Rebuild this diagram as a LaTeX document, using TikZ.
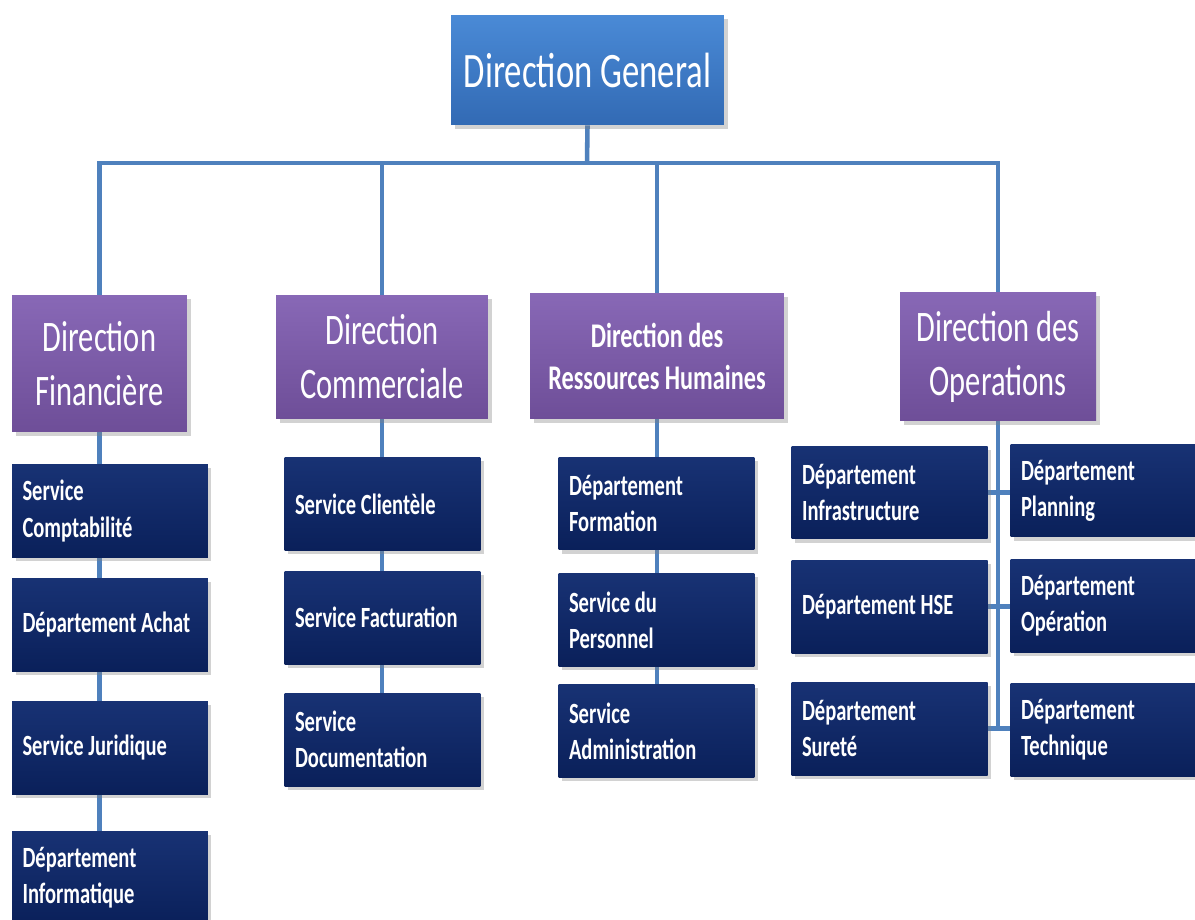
\documentclass[tikz,border=0pt]{standalone}
\usepackage{fontspec}
\setmainfont{Carlito}[FakeStretch=0.7]
\usepackage{xcolor}
\usepackage{tikz}
\usetikzlibrary{shadows,backgrounds}
\definecolor{dgtop}{RGB}{74, 138, 214}
\definecolor{dgbot}{RGB}{50, 106, 180}
\definecolor{dirtop}{RGB}{136, 104, 182}
\definecolor{dirbot}{RGB}{110, 78, 152}
\definecolor{unittop}{RGB}{24, 50, 116}
\definecolor{unitbot}{RGB}{10, 32, 90}
\definecolor{linkcolor}{RGB}{79, 129, 189}

\begin{document}
\begin{tikzpicture}[
    x=0.02cm, y=-0.02cm,
    box/.style={rectangle, inner sep=0pt, text=white, drop shadow={opacity=0.35, shadow xshift=2pt, shadow yshift=-2pt}},
    topbox/.style={box, top color=dgtop, bottom color=dgbot, minimum width=5.46cm, minimum height=2.2cm, font=\fontsize{28.2}{34}\selectfont},
    dirbox/.style={box, top color=dirtop, bottom color=dirbot, align=center, font=\fontsize{24.8}{30.7}\selectfont},
    unitbox/.style={box, top color=unittop, bottom color=unitbot, align=left, text width=3.5cm, inner xsep=0.21cm, minimum height=1.86cm, font=\bfseries\fontsize{16.7}{20.5}\selectfont,
        execute at begin node={\spaceskip=0.16em\relax}},
    link/.style={draw=linkcolor, line width=2.6pt}
]
\useasboundingbox (0,0) rectangle (1195,919);

% Top
\node[topbox] (dg) at (587.5,70) {Direction General};

% Directions
\node[dirbox, minimum width=3.5cm, minimum height=2.74cm] (dfin) at (99.5,363.5) {Direction\\Financière};
\node[dirbox, minimum width=4.24cm, minimum height=2.48cm] (dcom) at (382,357) {Direction\\Commerciale};
\node[dirbox, minimum width=5.08cm, minimum height=2.52cm, font=\bfseries\fontsize{19.7}{23.9}\selectfont] (drh) at (657,356) {Direction des\\Ressources Humaines};
\node[dirbox, minimum width=3.92cm, minimum height=2.58cm] (dops) at (998,356.5) {Direction des\\Operations};

% Direction Financiere column
\node[unitbox] (compta) at (110,511) {Service\\Comptabilité};
\node[unitbox] (achat) at (110,624.5) {Département Achat};
\node[unitbox] (jurid) at (110,747.5) {Service Juridique};
\node[unitbox] (info) at (110,877.5) {Département\\Informatique};

% Direction Commerciale column
\node[unitbox] (client) at (382.5,504) {Service Clientèle};
\node[unitbox] (factu) at (382.5,617.5) {Service Facturation};
\node[unitbox] (docu) at (382.5,739.5) {Service\\Documentation};

% Direction RH column
\node[unitbox] (form) at (656.5,503.5) {Département\\Formation};
\node[unitbox] (pers) at (656.5,620) {Service du\\Personnel};
\node[unitbox] (adm) at (656.5,731) {Service\\Administration};

% Direction Operations - two columns
\node[unitbox] (infra) at (889.5,492.5) {Département\\Infrastructure};
\node[unitbox] (hse) at (889.5,606.5) {Département HSE};
\node[unitbox] (surete) at (889.5,728.5) {Département\\Sureté};
\node[unitbox] (plan) at (1108.5,490.5) {Département\\Planning};
\node[unitbox] (oper) at (1108.5,606) {Département\\Opération};
\node[unitbox] (techn) at (1108.5,730) {Département\\Technique};

% Connectors behind the boxes
\begin{scope}[on background layer]
\fill[white] (0,0) rectangle (1195,919);
\coordinate (bus) at (587,163);
\draw[link] (dg.south) -- (bus);
\draw[link] (dfin.north) |- (bus) -| (dops.north);
\draw[link] (dcom.north) -- (dcom.north |- bus);
\draw[link] (drh.north) -- (drh.north |- bus);
\draw[link] (dfin.south) -- (dfin.south |- info.north);
\draw[link] (dcom.south) -- (dcom.south |- docu.north);
\draw[link] (drh.south) -- (drh.south |- adm.north);
\draw[link] (dops.south) |- (surete.east);
\draw[link] (infra.east) -- (plan.west |- infra.east);
\draw[link] (hse.east) -- (oper.west |- hse.east);
\draw[link] (surete.east -| dops.south) -- (techn.west |- surete.east);
\end{scope}

\end{tikzpicture}
\end{document}
